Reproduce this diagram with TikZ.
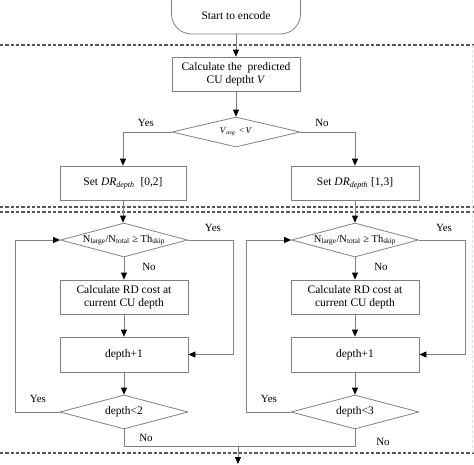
\documentclass[tikz,border=0pt]{standalone}
\usepackage{fontspec}
\setmainfont{Liberation Serif}
\usetikzlibrary{arrows.meta,shapes.geometric,calc}
\definecolor{lc}{HTML}{808080}
\definecolor{dc}{HTML}{555555}
\begin{document}
\begin{tikzpicture}[x=1pt,y=-1pt,
  font=\fontsize{11.5}{13.5}\selectfont,
  box/.style={draw=lc,line width=0.8pt,minimum width=128pt,minimum height=34pt,inner sep=1pt,align=center},
  dia/.style={draw=lc,line width=0.8pt,diamond,minimum width=127pt,minimum height=34pt,inner sep=0pt},
  line/.style={draw=lc,line width=0.8pt},
  arr/.style={line,-{Triangle[length=7pt,width=6pt,fill=black,color=black]}},
  lab/.style={font=\fontsize{11}{12}\selectfont,inner sep=0pt},
  sep/.style={draw=dc,line width=1.1pt,dash pattern=on 3.3pt off 2pt}]
\useasboundingbox (0,0) rectangle (474,464);
% separators
\draw[sep] (0,45) -- (474,45);
\draw[sep] (0,207) -- (474,207);
\draw[sep] (0,212) -- (474,212);
\draw[sep] (0,453) -- (474,453);
\draw[draw=black!12,line width=0.8pt,dash pattern=on 3pt off 2pt] (472,45) -- (472,453);
% top part
\node[box,rounded corners=20pt,minimum height=56pt,minimum width=129pt,label={[yshift=-10pt]center:Start to encode}] (start) at (236,6) {};
\node[box] (calc) at (236,74) {Calculate the \ predicted\\CU deptht \textit{V}};
\node[dia,minimum width=128pt,minimum height=30pt,label={center:{\fontsize{9}{10}\selectfont\textit{V}\textsubscript{\textit{avg}} \,<\,\textit{V}}}] (d1) at (236,132) {};
\node[box,minimum width=126pt] (setL) at (123,183) {Set \textit{DR}\textsubscript{\textit{depth}} \ [0,2]};
\node[box] (setR) at (355,183) {Set \textit{DR}\textsubscript{\textit{depth}} [1,3]};
\draw[arr] (start) -- (calc);
\draw[arr] (calc) -- (d1);
\draw[arr] (d1.west) -| (setL.north);
\draw[arr] (d1.east) -| (setR.north);
\node[lab] (yes0) at (146,123) {Yes};
\node[lab] (no0) at (322,123) {No};
% left column
\node[dia,label={center:{\fontsize{10.5}{12}\selectfont N\textsubscript{large}/N\textsubscript{total} ≥ Th\textsubscript{skip}}}] (nL) at (124,240) {};
\node[box] (rdL) at (124,297) {Calculate RD cost at\\current CU depth};
\node[box,minimum height=35pt] (depL) at (124,354.5) {depth+1};
\node[dia,minimum width=128pt,label={center:depth<2}] (ltL) at (124,412) {};
\draw[arr] (setL.south) -- (setL.south |- nL.north);
\draw[arr] (nL) -- (rdL);
\draw[arr] (rdL) -- (depL);
\draw[arr] (depL) -- (ltL);
\coordinate (yL1) at (233,240);
\coordinate (yL2) at (15,412);
\draw[arr] (nL.east) -- (yL1) |- (depL.east);
\draw[arr] (ltL.west) -- (yL2) |- (nL.west);
\node[lab] (yes1) at (213,228) {Yes};
\node[lab] (no1) at (149,267) {No};
\node[lab] (yes2) at (38,399) {Yes};
% right column
\node[dia,label={center:{\fontsize{10.5}{12}\selectfont N\textsubscript{large}/N\textsubscript{total} ≥ Th\textsubscript{skip}}}] (nR) at (355,240) {};
\node[box] (rdR) at (355,297) {Calculate RD cost at\\current CU depth};
\node[box,minimum height=35pt] (depR) at (355,354.5) {depth+1};
\node[dia,minimum width=128pt,label={center:depth<3}] (ltR) at (355,412) {};
\draw[arr] (setR.south) -- (nR.north);
\draw[arr] (nR) -- (rdR);
\draw[arr] (rdR) -- (depR);
\draw[arr] (depR) -- (ltR);
\coordinate (yR1) at (465,240);
\coordinate (yR2) at (246,412);
\draw[arr] (nR.east) -- (yR1) |- (depR.east);
\draw[arr] (ltR.west) -- (yR2) |- (nR.west);
\node[lab] (yes3) at (444,228) {Yes};
\node[lab] (no3) at (381,267) {No};
\node[lab] (yes4) at (269,399) {Yes};
% exits
\coordinate (join) at (238,446);
\coordinate (out) at (238,464);
\draw[line] (ltL.south) |- (join);
\draw[line] (ltR.south) |- (join);
\draw[arr] (join) -- (out);
\node[lab] (no2) at (146,438) {No};
\node[lab] (no4) at (383,442) {No};
\end{tikzpicture}
\end{document}
